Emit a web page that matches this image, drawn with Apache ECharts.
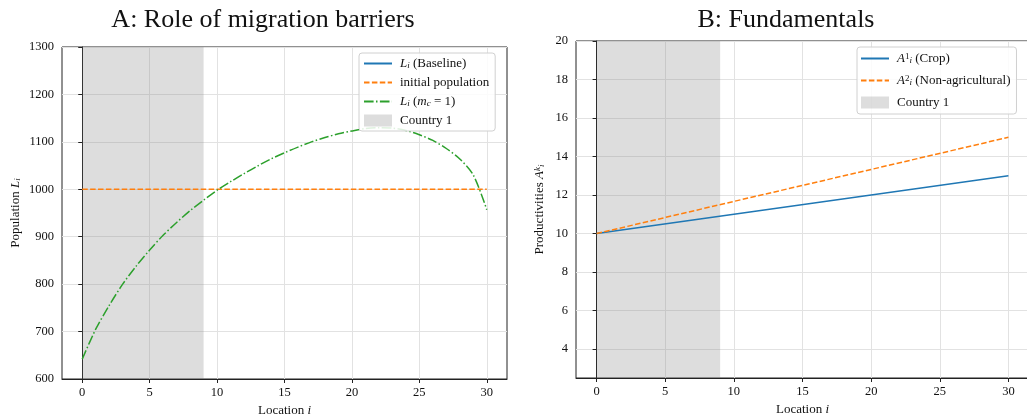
<!DOCTYPE html>
<html>
<head>
<meta charset="utf-8">
<script src="https://cdn.jsdelivr.net/npm/echarts@6/dist/echarts.min.js"></script>
<style>
html,body{margin:0;padding:0;background:#fff;}
#chart{width:1027px;height:416px;}
</style>
</head>
<body>
<div id="chart"></div>
<script>
// ---- data ----
const locations = [0,1,2,3,4,5,6,7,8,9,10,11,12,13,14,15,16,17,18,19,20,21,22,23,24,25,26,27,28,29,30];
const popMigration = [642,705,755,800,838,872,903,930,955,977,998,1016,1033,1049,1064,1077,1089,1100,1109,1117,1123,1128,1130,1129,1124,1115,1103,1086,1064,1030,957];
const popBaseline = [];
const initialX = [0, 30];
const initialPop = [1000, 1000];
const prodX = [0, 10, 20, 30];
const prodCrop = [10, 11, 12, 13];
const prodNonAg = [10, 11.67, 13.33, 15];
const countryBand = [0, 9];
const xTicks = [0, 5, 10, 15, 20, 25, 30];
const yTicksB = [4, 6, 8, 10, 12, 14, 16, 18, 20];

const FONT = '"Liberation Serif", "DejaVu Serif", serif';
const C_BLUE = '#1f77b4', C_ORANGE = '#ff7f0e', C_GREEN = '#2ca02c';
const BAND = 'rgba(128,128,128,0.27)';
const NOSYM = {color: 'rgba(0,0,0,0)', borderWidth: 0, opacity: 0};
const zip = (xs, ys) => xs.map((x, i) => [x, ys[i]]);

const richBase = {
  n: {fontFamily: FONT, fontSize: 13, color: '#111'},
  it: {fontFamily: FONT, fontSize: 13, fontStyle: 'italic', color: '#111'},
  sub: {fontFamily: FONT, fontSize: 9, fontStyle: 'italic', color: '#111', verticalAlign: 'bottom', lineHeight: 13},
  sup: {fontFamily: FONT, fontSize: 9, color: '#111', verticalAlign: 'top', lineHeight: 13}
};
const richAxis = {
  n: {fontFamily: FONT, fontSize: 13, color: '#111'},
  it: {fontFamily: FONT, fontSize: 13, fontStyle: 'italic', color: '#111'},
  sub: {fontFamily: FONT, fontSize: 9, fontStyle: 'italic', color: '#111', verticalAlign: 'bottom', lineHeight: 13},
  sup: {fontFamily: FONT, fontSize: 9, fontStyle: 'italic', color: '#111', verticalAlign: 'top', lineHeight: 13}
};

const legendLabels = {
  'Baseline': '{it|L}{sub|i}{n| (Baseline)}',
  'initial population': '{n|initial population}',
  'mc1': '{it|L}{sub|i}{n| (}{it|m}{sub|c}{n| = 1)}',
  'Country 1': '{n|Country 1}',
  'Crop': '{it|A}{sup|1}{sub|i}{n| (Crop)}',
  'NonAg': '{it|A}{sup|2}{sub|i}{n| (Non-agricultural)}',
  'Country 1 ': '{n|Country 1}'
};

const axisCommon = {
  axisLine: {show: true, lineStyle: {color: '#222', width: 1}},
  axisTick: {show: true, inside: false, length: 4, lineStyle: {color: '#222'}},
  axisLabel: {fontFamily: FONT, fontSize: 12.5, color: '#111', margin: 7, formatter: v => String(v)},
  splitLine: {show: true, lineStyle: {color: '#e2e2e2', width: 1}},
  nameTextStyle: {fontFamily: FONT, fontSize: 13, color: '#111', rich: richAxis}
};

function merge(a, b) { return Object.assign({}, a, b); }

const option = {
  animation: false,
  backgroundColor: '#fff',
  title: [
    {text: 'A: Role of migration barriers', left: 258, top: 2, textAlign: 'center',
     textStyle: {fontFamily: FONT, fontSize: 26, fontWeight: 'normal', color: '#111'}},
    {text: 'B: Fundamentals', left: 781, top: 2, textAlign: 'center',
     textStyle: {fontFamily: FONT, fontSize: 26, fontWeight: 'normal', color: '#111'}}
  ],
  grid: [
    {left: 62, top: 47, width: 445, height: 332, show: true, borderColor: '#222', borderWidth: 1,
     backgroundColor: 'transparent', containLabel: false, outerBoundsMode: 'none'},
    {left: 576, top: 41, width: 453, height: 337, show: true, borderColor: '#222', borderWidth: 1,
     backgroundColor: 'transparent', containLabel: false, outerBoundsMode: 'none'}
  ],
  xAxis: [
    merge(axisCommon, {
      type: 'value', gridIndex: 0, min: -1.5, max: 31.5,
      axisLabel: merge(axisCommon.axisLabel, {customValues: xTicks}),
      axisTick: merge(axisCommon.axisTick, {customValues: xTicks}),
      name: '{n|Location }{it|i}', nameLocation: 'middle', nameGap: 25
    }),
    merge(axisCommon, {
      type: 'value', gridIndex: 1, min: -1.5, max: 31.5,
      axisLabel: merge(axisCommon.axisLabel, {customValues: xTicks}),
      axisTick: merge(axisCommon.axisTick, {customValues: xTicks}),
      name: '{n|Location }{it|i}', nameLocation: 'middle', nameGap: 25
    })
  ],
  yAxis: [
    merge(axisCommon, {
      type: 'value', gridIndex: 0, min: 600, max: 1300, interval: 100,
      axisLabel: merge(axisCommon.axisLabel, {margin: 8}),
      name: '{n|Population }{it|L}{sub|i}', nameLocation: 'middle', nameGap: 40
    }),
    merge(axisCommon, {
      type: 'value', gridIndex: 1, min: 2.5, max: 20,
      axisLabel: merge(axisCommon.axisLabel, {customValues: yTicksB, margin: 8}),
      axisTick: merge(axisCommon.axisTick, {customValues: yTicksB}),
      name: '{n|Productivities }{it|A}{sup|k}{sub|i}', nameLocation: 'middle', nameGap: 30
    })
  ],
  legend: [
    {
      orient: 'vertical', left: 359, top: 53, padding: [4, 6, 4, 4], itemGap: 6,
      itemWidth: 28, itemHeight: 12,
      backgroundColor: 'rgba(255,255,255,0.85)', borderColor: '#d0d0d0', borderWidth: 1, borderRadius: 3,
      data: [{name: 'Baseline', itemStyle: NOSYM}, {name: 'initial population', itemStyle: NOSYM},
             {name: 'mc1', itemStyle: NOSYM}, {name: 'Country 1', icon: 'rect', itemStyle: {color: BAND}}],
      formatter: n => legendLabels[n],
      textStyle: {fontFamily: FONT, fontSize: 13, color: '#111', rich: richBase, padding: [0, 0, 0, 3]}
    },
    {
      orient: 'vertical', left: 857, top: 47, padding: [5, 6, 5, 3], itemGap: 9,
      itemWidth: 28, itemHeight: 12,
      backgroundColor: 'rgba(255,255,255,0.85)', borderColor: '#d0d0d0', borderWidth: 1, borderRadius: 3,
      data: [{name: 'Crop', itemStyle: NOSYM}, {name: 'NonAg', itemStyle: NOSYM},
             {name: 'Country 1 ', icon: 'rect', itemStyle: {color: BAND}}],
      formatter: n => legendLabels[n],
      textStyle: {fontFamily: FONT, fontSize: 13, color: '#111', rich: richBase, padding: [0, 0, 0, 3]}
    }
  ],
  series: [
    {name: 'Country 1', type: 'line', xAxisIndex: 0, yAxisIndex: 0, data: [], symbol: 'none',
     itemStyle: {color: BAND}, lineStyle: {color: BAND},
     markArea: {silent: true, itemStyle: {color: BAND}, data: [[{xAxis: countryBand[0]}, {xAxis: countryBand[1]}]]}},
    {name: 'Baseline', type: 'line', xAxisIndex: 0, yAxisIndex: 0, data: popBaseline, symbol: 'none',
     itemStyle: {color: C_BLUE}, lineStyle: {color: C_BLUE, width: 1.5}},
    {name: 'initial population', type: 'line', xAxisIndex: 0, yAxisIndex: 0, data: zip(initialX, initialPop), symbol: 'none',
     itemStyle: {color: C_ORANGE}, lineStyle: {color: C_ORANGE, width: 1.5, type: [5.5, 2.4]}},
    {name: 'mc1', type: 'line', xAxisIndex: 0, yAxisIndex: 0, data: zip(locations, popMigration), symbol: 'none', smooth: 0.3,
     itemStyle: {color: C_GREEN}, lineStyle: {color: C_GREEN, width: 1.5, type: [9.6, 2.4, 1.5, 2.4]}},
    {name: 'Country 1 ', type: 'line', xAxisIndex: 1, yAxisIndex: 1, data: [], symbol: 'none',
     itemStyle: {color: BAND}, lineStyle: {color: BAND},
     markArea: {silent: true, itemStyle: {color: BAND}, data: [[{xAxis: countryBand[0]}, {xAxis: countryBand[1]}]]}},
    {name: 'Crop', type: 'line', xAxisIndex: 1, yAxisIndex: 1, data: zip(prodX, prodCrop), symbol: 'none',
     itemStyle: {color: C_BLUE}, lineStyle: {color: C_BLUE, width: 1.5}},
    {name: 'NonAg', type: 'line', xAxisIndex: 1, yAxisIndex: 1, data: zip(prodX, prodNonAg), symbol: 'none',
     itemStyle: {color: C_ORANGE}, lineStyle: {color: C_ORANGE, width: 1.5, type: [5.5, 2.4]}}
  ]
};

const chart = echarts.init(document.getElementById('chart'), null, {renderer: 'canvas'});
chart.setOption(option);
</script>
</body>
</html>
